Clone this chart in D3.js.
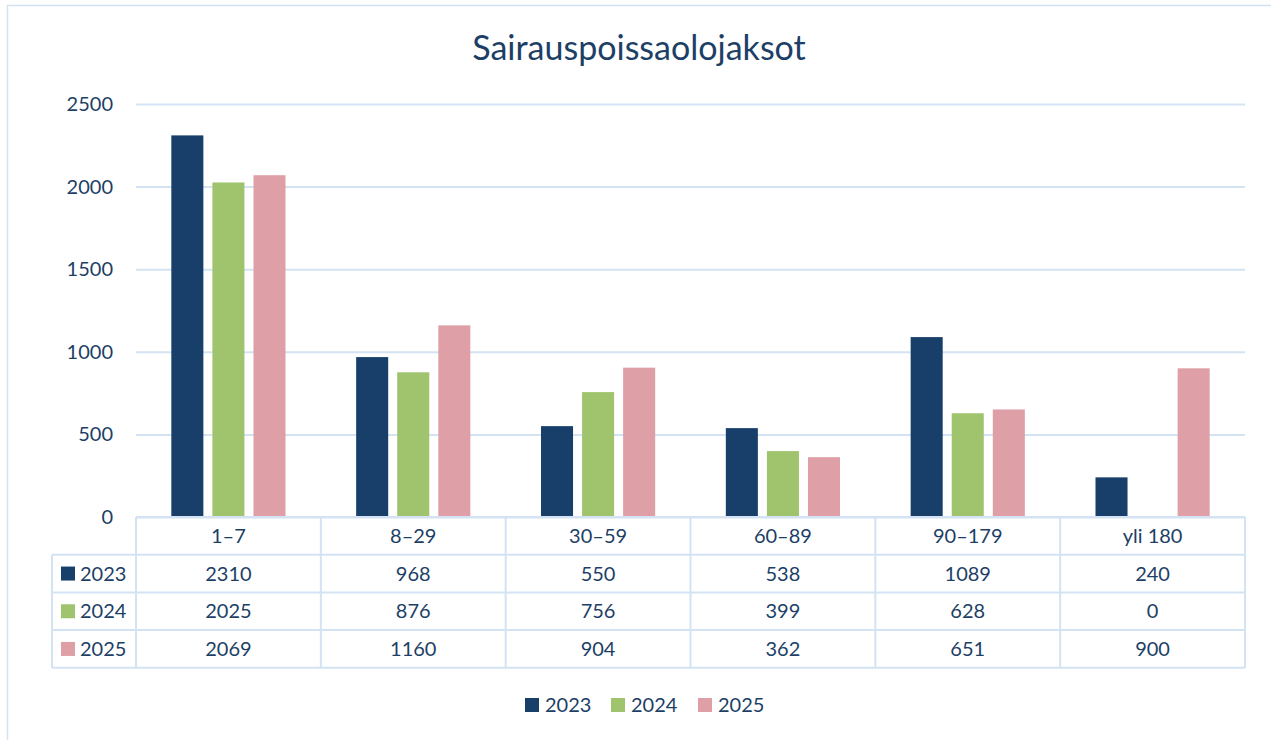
<!DOCTYPE html>
<html>
<head>
<meta charset="utf-8">
<script src="https://cdn.jsdelivr.net/npm/d3@7"></script>
<style>
  body { margin: 0; background: #fff; }
  svg { display: block; font-family: Lato, "Open Sans", sans-serif; }
</style>
</head>
<body>
<div id="chart"></div>
<script>
// Data
const categories = ["1–7", "8–29", "30–59", "60–89", "90–179", "yli 180"];
const years = ["2023", "2024", "2025"];
const values2023 = [2310, 968, 550, 538, 1089, 240];
const values2024 = [2025, 876, 756, 399, 628, 0];
const values2025 = [2069, 1160, 904, 362, 651, 900];
const yTicks = [0, 500, 1000, 1500, 2000, 2500];
const colors = ["#173f69", "#a0c36e", "#de9fa6"];

const seriesValues = [values2023, values2024, values2025];

const width = 1271, height = 740;
const margin = { left: 136, right: 26, top: 104, bottom: 223 };
const textColor = "#1d3f66";
const lineColor = "#d3e3f3";
const fontSize = 20;

const svg = d3.select("#chart").append("svg")
    .attr("width", width)
    .attr("height", height);

// outer chart frame (only top and left edges visible)
svg.append("path")
    .attr("d", `M7.5,${height} L7.5,5.5 L${width},5.5`)
    .attr("fill", "none")
    .attr("stroke", lineColor)
    .attr("stroke-width", 1.5);

svg.append("text")
    .attr("x", 639)
    .attr("y", 60)
    .attr("text-anchor", "middle")
    .attr("font-size", 34)
    .attr("fill", textColor)
    .text("Sairauspoissaolojaksot");

const plotRight = width - margin.right;
const plotBottom = height - margin.bottom;

const x = d3.scaleBand()
    .domain(categories)
    .range([margin.left, plotRight]);

const y = d3.scaleLinear()
    .domain([0, 2500])
    .range([plotBottom, margin.top]);

const xInner = d3.scaleBand()
    .domain(years)
    .range([0, x.bandwidth()])
    .paddingInner(0.22)
    .paddingOuter(0.86);

// gridlines + y labels
const yAxis = svg.append("g")
    .attr("transform", `translate(${margin.left},0)`)
    .call(d3.axisLeft(y).tickValues(yTicks).tickFormat(d3.format("d"))
        .tickSize(-(plotRight - margin.left)).tickPadding(23));
yAxis.select(".domain").remove();
yAxis.selectAll(".tick line")
    .attr("stroke", lineColor)
    .attr("stroke-width", 2);
yAxis.selectAll(".tick text")
    .attr("font-size", fontSize)
    .attr("font-family", "Lato, 'Open Sans', sans-serif")
    .attr("fill", textColor);

// bars
const groups = svg.append("g")
    .selectAll("g")
    .data(categories)
    .enter().append("g")
    .attr("transform", d => `translate(${x(d)},0)`);

groups.selectAll("rect")
    .data((d, i) => years.map((yr, s) => ({ year: yr, value: seriesValues[s][i], s: s })))
    .enter().append("rect")
    .attr("x", d => xInner(d.year))
    .attr("width", xInner.bandwidth())
    .attr("y", d => y(d.value))
    .attr("height", d => plotBottom - y(d.value))
    .attr("fill", d => colors[d.s]);

// data table below the plot
const rowH = 37.7;
const tableLeft = 52;
const table = svg.append("g");
const tableTop = plotBottom;
const tableBottom = tableTop + rowH * 4;

// horizontal lines
table.append("line")
    .attr("x1", margin.left).attr("x2", plotRight)
    .attr("y1", tableTop).attr("y2", tableTop);
d3.range(1, 5).forEach(r => {
    table.append("line")
        .attr("x1", tableLeft).attr("x2", plotRight)
        .attr("y1", tableTop + r * rowH).attr("y2", tableTop + r * rowH);
});
// vertical lines
table.append("line")
    .attr("x1", tableLeft).attr("x2", tableLeft)
    .attr("y1", tableTop + rowH).attr("y2", tableBottom);
categories.forEach(c => {
    table.append("line")
        .attr("x1", x(c)).attr("x2", x(c))
        .attr("y1", tableTop).attr("y2", tableBottom);
});
table.append("line")
    .attr("x1", plotRight).attr("x2", plotRight)
    .attr("y1", tableTop).attr("y2", tableBottom);
table.selectAll("line")
    .attr("stroke", lineColor)
    .attr("stroke-width", 2);

// header labels
table.selectAll("text.cat")
    .data(categories)
    .enter().append("text")
    .attr("class", "cat")
    .attr("x", d => x(d) + x.bandwidth() / 2)
    .attr("y", tableTop + rowH / 2)
    .attr("dy", "0.35em")
    .attr("text-anchor", "middle")
    .attr("font-size", fontSize)
    .attr("fill", textColor)
    .text(d => d);

// value rows
years.forEach((yr, s) => {
    const rowY = tableTop + (s + 1) * rowH;
    table.append("rect")
        .attr("x", 61)
        .attr("y", rowY + rowH / 2 - 7)
        .attr("width", 14)
        .attr("height", 14)
        .attr("fill", colors[s]);
    table.append("text")
        .attr("x", 80)
        .attr("y", rowY + rowH / 2)
        .attr("dy", "0.35em")
        .attr("font-size", fontSize)
        .attr("fill", textColor)
        .text(yr);
    table.selectAll(null)
        .data(seriesValues[s])
        .enter().append("text")
        .attr("x", (d, i) => x(categories[i]) + x.bandwidth() / 2)
        .attr("y", rowY + rowH / 2)
        .attr("dy", "0.35em")
        .attr("text-anchor", "middle")
        .attr("font-size", fontSize)
        .attr("fill", textColor)
        .text(d => d);
});

// legend at the bottom
const legend = svg.append("g").attr("transform", "translate(525,705)");
const legendX = [0, 86, 173];
years.forEach((yr, s) => {
    legend.append("rect")
        .attr("x", legendX[s])
        .attr("y", -7)
        .attr("width", 14)
        .attr("height", 14)
        .attr("fill", colors[s]);
    legend.append("text")
        .attr("x", legendX[s] + 20)
        .attr("y", 0)
        .attr("dy", "0.35em")
        .attr("font-size", fontSize)
        .attr("fill", textColor)
        .text(yr);
});
</script>
</body>
</html>
